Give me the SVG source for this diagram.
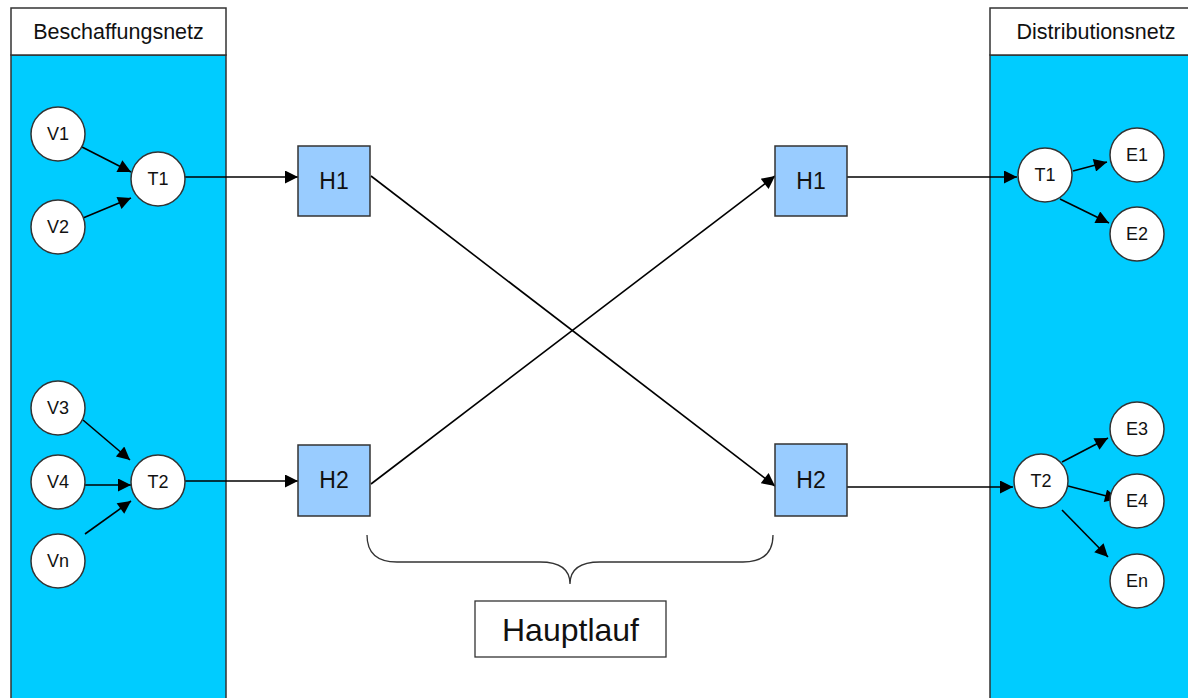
<svg xmlns="http://www.w3.org/2000/svg" width="1188" height="698" viewBox="0 0 1188 698">
<style>
.hdr{fill:#fff;stroke:#333;stroke-width:1.5}
.lane{fill:#00CCFF;stroke:#333;stroke-width:1.5}
.c{fill:#fff;stroke:#333;stroke-width:1.5}
.b{fill:#99CCFF;stroke:#333;stroke-width:1.5}
.t{font-family:"Liberation Sans",Arial,sans-serif;fill:#111;text-anchor:middle}
.ct{font-size:18px}
.bt{font-size:23px}
.ht{font-size:21.5px}
.e{stroke:#000;stroke-width:1.6;fill:none;marker-end:url(#ah)}
</style>
<defs>
<marker id="ah" viewBox="0 0 10 10" refX="10" refY="5" markerWidth="16" markerHeight="13" markerUnits="userSpaceOnUse" orient="auto">
<path d="M0,0 L10,5 L0,10 z" fill="#000"/>
</marker>
</defs>
<rect width="1188" height="698" fill="#fff"/>
<g id="beschaffungsnetz">
<rect class="lane" x="11" y="55" width="215" height="650"/>
<rect class="hdr" x="11" y="8" width="215" height="47"/>
<text class="t ht" x="118.5" y="39">Beschaffungsnetz</text>
</g>
<g id="distributionsnetz">
<rect class="lane" x="990" y="55" width="212" height="650"/>
<rect class="hdr" x="990" y="8" width="212" height="47"/>
<text class="t ht" x="1096" y="39">Distributionsnetz</text>
</g>
<g id="connectors">
<line class="e" x1="82" y1="147" x2="131" y2="172"/>
<line class="e" x1="83" y1="218" x2="131" y2="198"/>
<line class="e" x1="83" y1="420" x2="130" y2="460"/>
<line class="e" x1="84" y1="485" x2="131" y2="485"/>
<line class="e" x1="85" y1="534" x2="131" y2="501"/>
<line class="e" x1="185" y1="177" x2="298" y2="177"/>
<line class="e" x1="185" y1="481" x2="298" y2="481"/>
<line class="e" x1="371" y1="176" x2="775" y2="486"/>
<line class="e" x1="371" y1="484" x2="775" y2="176"/>
<line class="e" x1="847" y1="177" x2="1017" y2="177"/>
<line class="e" x1="847" y1="487" x2="1013" y2="487"/>
<line class="e" x1="1073" y1="171" x2="1107" y2="162"/>
<line class="e" x1="1060" y1="199" x2="1109" y2="223"/>
<line class="e" x1="1062" y1="462" x2="1108" y2="438"/>
<line class="e" x1="1068" y1="486" x2="1118" y2="499"/>
<line class="e" x1="1062" y1="510" x2="1108" y2="557"/>
</g>
<g id="V1"><circle class="c" cx="58" cy="134" r="27"/><text class="t ct" x="58" y="140">V1</text></g>
<g id="V2"><circle class="c" cx="58" cy="227" r="27"/><text class="t ct" x="58" y="233">V2</text></g>
<g id="T1L"><circle class="c" cx="158" cy="179" r="27"/><text class="t ct" x="158" y="185">T1</text></g>
<g id="V3"><circle class="c" cx="58" cy="408" r="27"/><text class="t ct" x="58" y="414">V3</text></g>
<g id="V4"><circle class="c" cx="58" cy="482" r="27"/><text class="t ct" x="58" y="488">V4</text></g>
<g id="Vn"><circle class="c" cx="58" cy="561" r="27"/><text class="t ct" x="58" y="567">Vn</text></g>
<g id="T2L"><circle class="c" cx="158" cy="482" r="27"/><text class="t ct" x="158" y="488">T2</text></g>
<g id="H1L"><rect class="b" x="298" y="146" width="72" height="70"/><text class="t bt" x="334" y="189">H1</text></g>
<g id="H2L"><rect class="b" x="298" y="445" width="72" height="71"/><text class="t bt" x="334" y="488">H2</text></g>
<g id="H1R"><rect class="b" x="775" y="146" width="72" height="70"/><text class="t bt" x="811" y="189">H1</text></g>
<g id="H2R"><rect class="b" x="775" y="444" width="72" height="72"/><text class="t bt" x="811" y="488">H2</text></g>
<g id="T1R"><circle class="c" cx="1045" cy="175" r="27"/><text class="t ct" x="1045" y="181">T1</text></g>
<g id="E1"><circle class="c" cx="1137" cy="155" r="27"/><text class="t ct" x="1137" y="161">E1</text></g>
<g id="E2"><circle class="c" cx="1137" cy="234" r="27"/><text class="t ct" x="1137" y="240">E2</text></g>
<g id="T2R"><circle class="c" cx="1041" cy="481" r="27"/><text class="t ct" x="1041" y="487">T2</text></g>
<g id="E3"><circle class="c" cx="1137" cy="429" r="27"/><text class="t ct" x="1137" y="435">E3</text></g>
<g id="E4"><circle class="c" cx="1137" cy="501" r="27"/><text class="t ct" x="1137" y="507">E4</text></g>
<g id="En"><circle class="c" cx="1137" cy="581" r="27"/><text class="t ct" x="1137" y="587">En</text></g>
<g id="brace">
<path d="M367,535 Q367,562 397,562 L540,562 Q570,562 570,584 Q570,562 600,562 L743,562 Q773,562 773,535" fill="none" stroke="#333" stroke-width="1.3"/>
</g>
<g id="hauptlauf">
<rect x="475" y="601" width="191" height="56" fill="#fff" stroke="#333" stroke-width="1.3"/>
<text class="t" x="570.5" y="641" font-size="32">Hauptlauf</text>
</g>
</svg>
